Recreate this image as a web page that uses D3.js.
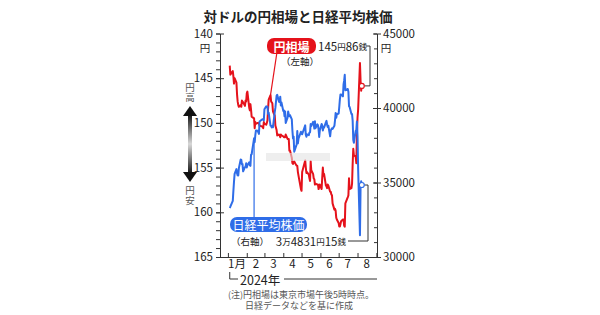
<!DOCTYPE html>
<html>
<head>
<meta charset="utf-8">
<script src="https://cdn.jsdelivr.net/npm/d3@7"></script>
<style>
  body { margin: 0; background: #fff; }
  svg { display: block; font-family: "Noto Sans CJK JP", "Noto Sans", sans-serif; }
</style>
</head>
<body>
<svg id="chart" width="600" height="315"></svg>
<script>
// trading days 2024 (Tokyo)
const dates = [
  "01-04","01-05","01-09","01-10","01-11","01-12","01-15","01-16","01-17","01-18","01-19",
  "01-22","01-23","01-24","01-25","01-26","01-29","01-30","01-31",
  "02-01","02-02","02-05","02-06","02-07","02-08","02-09","02-13","02-14","02-15","02-16",
  "02-19","02-20","02-21","02-22","02-26","02-27","02-28","02-29",
  "03-01","03-04","03-05","03-06","03-07","03-08","03-11","03-12","03-13","03-14","03-15",
  "03-18","03-19","03-21","03-22","03-25","03-26","03-27","03-28","03-29",
  "04-01","04-02","04-03","04-04","04-05","04-08","04-09","04-10","04-11","04-12",
  "04-15","04-16","04-17","04-18","04-19","04-22","04-23","04-24","04-25","04-26","04-30",
  "05-01","05-02","05-07","05-08","05-09","05-10","05-13","05-14","05-15","05-16","05-17",
  "05-20","05-21","05-22","05-23","05-24","05-27","05-28","05-29","05-30","05-31",
  "06-03","06-04","06-05","06-06","06-07","06-10","06-11","06-12","06-13","06-14",
  "06-17","06-18","06-19","06-20","06-21","06-24","06-25","06-26","06-27","06-28",
  "07-01","07-02","07-03","07-04","07-05","07-08","07-09","07-10","07-11","07-12",
  "07-16","07-17","07-18","07-19","07-22","07-23","07-24","07-25","07-26","07-29","07-30","07-31",
  "08-01","08-02","08-05","08-06","08-07","08-08"
];

// 円相場 (円/ドル, 東京17時)
const yen = [
  143.6,144.6,144.2,144.8,145.6,145.0,145.5,146.8,147.6,148.0,148.2,
  148.0,148.2,147.5,147.6,147.7,148.1,147.5,147.6,
  146.7,146.5,148.3,148.6,147.9,148.5,149.3,149.5,150.6,149.9,150.1,
  150.0,150.0,150.1,150.3,150.4,150.4,150.6,149.9,
  150.1,150.2,150.0,149.7,148.4,147.4,146.9,147.6,147.7,147.8,148.7,
  149.2,150.3,150.8,151.4,151.3,151.4,151.6,151.3,151.4,
  151.5,151.6,151.6,151.6,151.3,151.8,151.8,151.8,153.1,153.1,
  153.9,154.5,154.6,154.4,154.3,154.7,154.8,154.8,155.5,155.9,157.4,
  157.6,155.5,154.2,155.0,155.6,155.5,155.8,156.2,156.5,154.3,155.3,
  155.7,156.2,156.3,156.9,156.8,156.9,156.9,157.4,157.2,156.9,
  157.4,156.1,155.0,155.9,155.7,157.0,157.1,157.3,156.9,157.0,
  157.7,157.7,158.0,158.1,159.0,159.7,159.6,159.8,160.6,160.8,
  161.2,161.6,161.6,161.3,161.0,160.8,160.8,161.5,161.6,159.0,
  158.3,158.1,156.2,157.4,157.3,156.8,154.6,152.9,153.6,153.8,154.5,151.2,
  149.4,148.5,143.3,145.3,146.4,145.86
];

// 日経平均株価 (円)
const nikkei = [
  33288,33377,33763,34441,35049,35577,35901,35619,35477,35466,35963,
  36546,36517,36226,36236,35751,36026,36065,36287,
  36011,36158,36354,36160,36119,36863,36897,37963,37703,38157,38487,
  38470,38363,38262,39098,39233,39239,39208,39166,
  39910,40109,40097,40090,39598,39688,38820,38797,38695,38807,38707,
  39740,40003,40815,40888,40414,40398,40762,40168,40369,
  39803,39838,39451,39773,38992,39347,39773,39581,39442,39523,
  39233,38471,37961,38079,37068,37438,37552,38460,37628,37934,38405,
  38274,38236,38835,38202,38073,38229,38179,38356,38385,38920,38787,
  39069,38946,38617,39103,38646,38900,38855,38556,38054,38487,
  38923,38837,38490,38703,38683,39038,39134,38876,38720,38814,
  38102,38482,38570,38633,38596,38804,39173,39667,39341,39583,
  39631,40074,40580,40913,40912,40780,41580,41831,42224,41190,
  41275,41097,40126,40063,39599,39594,39154,37869,37667,38468,38526,39101,
  38126,35909,31458,34675,35089,34831.15
];

const yenTicks = [140, 145, 150, 155, 160, 165];
const nikkeiTicks = [30000, 35000, 40000, 45000];
const monthLabels = ["1月", "2", "3", "4", "5", "6", "7", "8"];

const RED = "#e5121b";
const BLUE = "#2f6de8";
const INK = "#222";

const parse = d3.timeParse("%Y-%m-%d");
const data = dates.map((d, i) => ({ date: parse("2024-" + d), yen: yen[i], nk: nikkei[i] }));
const last = data[data.length - 1];

const svg = d3.select("#chart");

const plotL = 220, plotR = 377, plotT = 33.5, plotB = 257;

const x = d3.scaleTime()
  .domain([new Date(2023, 11, 19), new Date(2024, 8, 2)])
  .range([plotL, plotR]);
const yL = d3.scaleLinear().domain([140, 165]).range([plotT, plotB]);
const yR = d3.scaleLinear().domain([30000, 45000]).range([plotB, plotT]);

// title
svg.append("text")
  .attr("x", 298).attr("y", 16)
  .attr("text-anchor", "middle").attr("dominant-baseline", "central")
  .attr("font-size", 13.5).attr("font-weight", "bold").attr("fill", INK)
  .text("対ドルの円相場と日経平均株価");

function styleAxis(g) {
  g.selectAll("path, line").attr("stroke", "#333").attr("stroke-width", 1);
  g.selectAll("text").attr("fill", INK).attr("font-family", "\"Noto Sans CJK JP\", sans-serif");
}

// left axis (yen)
svg.append("g")
  .attr("transform", `translate(${plotL},0)`)
  .call(d3.axisLeft(yL).tickValues(d3.range(140, 166, 1)).tickSize(4).tickFormat("").tickSizeOuter(0))
  .call(styleAxis);
svg.append("g")
  .attr("transform", `translate(${plotL + 4},0)`)
  .call(d3.axisLeft(yL).tickValues(yenTicks).tickSize(8).tickPadding(3))
  .call(g => g.select(".domain").remove())
  .call(g => g.selectAll("text").attr("font-size", 11.5))
  .call(styleAxis);
svg.append("text").attr("x", 205).attr("y", 47).attr("text-anchor", "middle")
  .attr("dominant-baseline", "central").attr("font-size", 10.5).attr("fill", INK).text("円");

// right axis (nikkei)
svg.append("g")
  .attr("transform", `translate(${plotR},0)`)
  .call(d3.axisLeft(yR).tickValues(d3.range(30000, 45001, 1000)).tickSize(3).tickFormat("").tickSizeOuter(0))
  .call(styleAxis);
svg.append("g")
  .attr("transform", `translate(${plotR - 4},0)`)
  .call(d3.axisRight(yR).tickValues(nikkeiTicks).tickSize(8).tickPadding(2).tickFormat(d3.format("d")))
  .call(g => g.select(".domain").remove())
  .call(g => g.selectAll("text").attr("font-size", 11.5))
  .call(styleAxis);
svg.append("text").attr("x", 386).attr("y", 47).attr("text-anchor", "middle")
  .attr("dominant-baseline", "central").attr("font-size", 10.5).attr("fill", INK).text("円");

// bottom axis (months)
const monthStarts = d3.timeMonth.range(new Date(2024, 0, 1), new Date(2024, 8, 2));
svg.append("g")
  .attr("transform", `translate(0,${plotB})`)
  .call(d3.axisBottom(x).tickValues(monthStarts).tickSize(-4).tickFormat("").tickSizeOuter(0))
  .call(styleAxis);
svg.append("g").selectAll("text")
  .data(monthLabels)
  .join("text")
  .attr("x", (d, i) => x(new Date(2024, i, 16)))
  .attr("y", 263)
  .attr("text-anchor", "middle").attr("dominant-baseline", "central")
  .attr("font-size", 11.5).attr("fill", INK)
  .text(d => d);

// year bracket
svg.append("path")
  .attr("d", `M${x(new Date(2024, 0, 4))},272V279H238M284,279H${plotR}`)
  .attr("fill", "none").attr("stroke", "#333");
svg.append("text").attr("x", 240).attr("y", 279.5)
  .attr("dominant-baseline", "central").attr("font-size", 12.5).attr("fill", INK)
  .text("2024年");

// footnote
svg.append("text").attr("x", 228).attr("y", 294)
  .attr("dominant-baseline", "central").attr("font-size", 9).attr("fill", "#555")
  .text("(注)円相場は東京市場午後5時時点。");
svg.append("text").attr("x", 245).attr("y", 305.5)
  .attr("dominant-baseline", "central").attr("font-size", 9).attr("fill", "#555")
  .text("日経データなどを基に作成");

// 円高 / 円安 arrow
const defs = svg.append("defs");
const grad = defs.append("linearGradient").attr("id", "arrowGrad")
  .attr("x1", 0).attr("y1", 0).attr("x2", 0).attr("y2", 1);
grad.append("stop").attr("offset", "0%").attr("stop-color", "#111");
grad.append("stop").attr("offset", "50%").attr("stop-color", "#d8d8d8");
grad.append("stop").attr("offset", "100%").attr("stop-color", "#111");
svg.append("rect").attr("x", 188).attr("y", 114).attr("width", 4).attr("height", 60)
  .attr("fill", "url(#arrowGrad)");
svg.append("path").attr("d", "M183,116L190,106L197,116Z").attr("fill", "#111");
svg.append("path").attr("d", "M183,172L190,182L197,172Z").attr("fill", "#111");
[["円高", 92.5], ["円安", 195.5]].forEach(([t, yy]) => {
  svg.append("text").attr("x", 190).attr("y", yy)
    .attr("text-anchor", "middle")
    .style("writing-mode", "vertical-rl")
    .attr("font-size", 9.5).attr("fill", "#555").text(t);
});

// lines
const yenLine = d3.line().x(d => x(d.date)).y(d => yL(d.yen));
const nkLine = d3.line().x(d => x(d.date)).y(d => yR(d.nk));

svg.append("path").datum(data)
  .attr("d", yenLine).attr("fill", "none")
  .attr("stroke", RED).attr("stroke-width", 2).attr("stroke-linejoin", "round");
svg.append("path").datum(data)
  .attr("d", nkLine).attr("fill", "none")
  .attr("stroke", BLUE).attr("stroke-width", 2).attr("stroke-linejoin", "round");

// watermark strip
svg.append("rect").attr("x", 266).attr("y", 153).attr("width", 64).attr("height", 8)
  .attr("fill", "#e2e2e2").attr("opacity", 0.6);

// red label
const redAnchor = data[44];
svg.append("line")
  .attr("x1", 277).attr("y1", 52)
  .attr("x2", x(redAnchor.date)).attr("y2", yL(redAnchor.yen))
  .attr("stroke", RED).attr("stroke-width", 1.2);
svg.append("rect").attr("x", 267).attr("y", 38).attr("width", 49).attr("height", 16)
  .attr("rx", 7).attr("fill", RED);
svg.append("text").attr("x", 291.5).attr("y", 46)
  .attr("text-anchor", "middle").attr("dominant-baseline", "central")
  .attr("font-size", 12).attr("font-weight", "bold").attr("fill", "#fff").text("円相場");
svg.append("text").attr("x", 300).attr("y", 61)
  .attr("text-anchor", "middle").attr("dominant-baseline", "central")
  .attr("font-size", 9.5).attr("fill", INK).text("（左軸）");

// red end value
const redVal = svg.append("text").attr("x", 318).attr("y", 46)
  .attr("dominant-baseline", "central").attr("fill", INK);
[["145", 11.5], ["円", 8.5], ["86", 11.5], ["銭", 8.5]].forEach(([t, s]) => {
  redVal.append("tspan").attr("font-size", s).text(t);
});
svg.append("path")
  .attr("d", `M366,46H370V${yL(last.yen)}H${x(last.date) + 2.5}`)
  .attr("fill", "none").attr("stroke", "#333");
svg.append("circle").attr("cx", x(last.date)).attr("cy", yL(last.yen)).attr("r", 2.5)
  .attr("fill", "#fff").attr("stroke", RED).attr("stroke-width", 1.2);

// blue label
const blueAnchor = data[26];
svg.append("line")
  .attr("x1", x(blueAnchor.date)).attr("y1", 218)
  .attr("x2", x(blueAnchor.date)).attr("y2", yR(blueAnchor.nk))
  .attr("stroke", BLUE).attr("stroke-width", 1.2);
svg.append("rect").attr("x", 230).attr("y", 217).attr("width", 77).attr("height", 15)
  .attr("rx", 7).attr("fill", BLUE);
svg.append("text").attr("x", 268.5).attr("y", 224.5)
  .attr("text-anchor", "middle").attr("dominant-baseline", "central")
  .attr("font-size", 12).attr("fill", "#fff").text("日経平均株価");
svg.append("text").attr("x", 231).attr("y", 241)
  .attr("dominant-baseline", "central")
  .attr("font-size", 9.5).attr("fill", INK).text("（右軸）");

const blueVal = svg.append("text").attr("x", 346).attr("y", 241)
  .attr("text-anchor", "end").attr("dominant-baseline", "central").attr("fill", INK);
[["3", 11.5], ["万", 8.5], ["4831", 11.5], ["円", 8.5], ["15", 11.5], ["銭", 8.5]].forEach(([t, s]) => {
  blueVal.append("tspan").attr("font-size", s).text(t);
});
svg.append("path")
  .attr("d", `M${x(last.date) + 2.5},${yR(last.nk)}H368V241H348`)
  .attr("fill", "none").attr("stroke", "#333");
svg.append("circle").attr("cx", x(last.date)).attr("cy", yR(last.nk)).attr("r", 2.5)
  .attr("fill", "#fff").attr("stroke", BLUE).attr("stroke-width", 1.2);
</script>
</body>
</html>
